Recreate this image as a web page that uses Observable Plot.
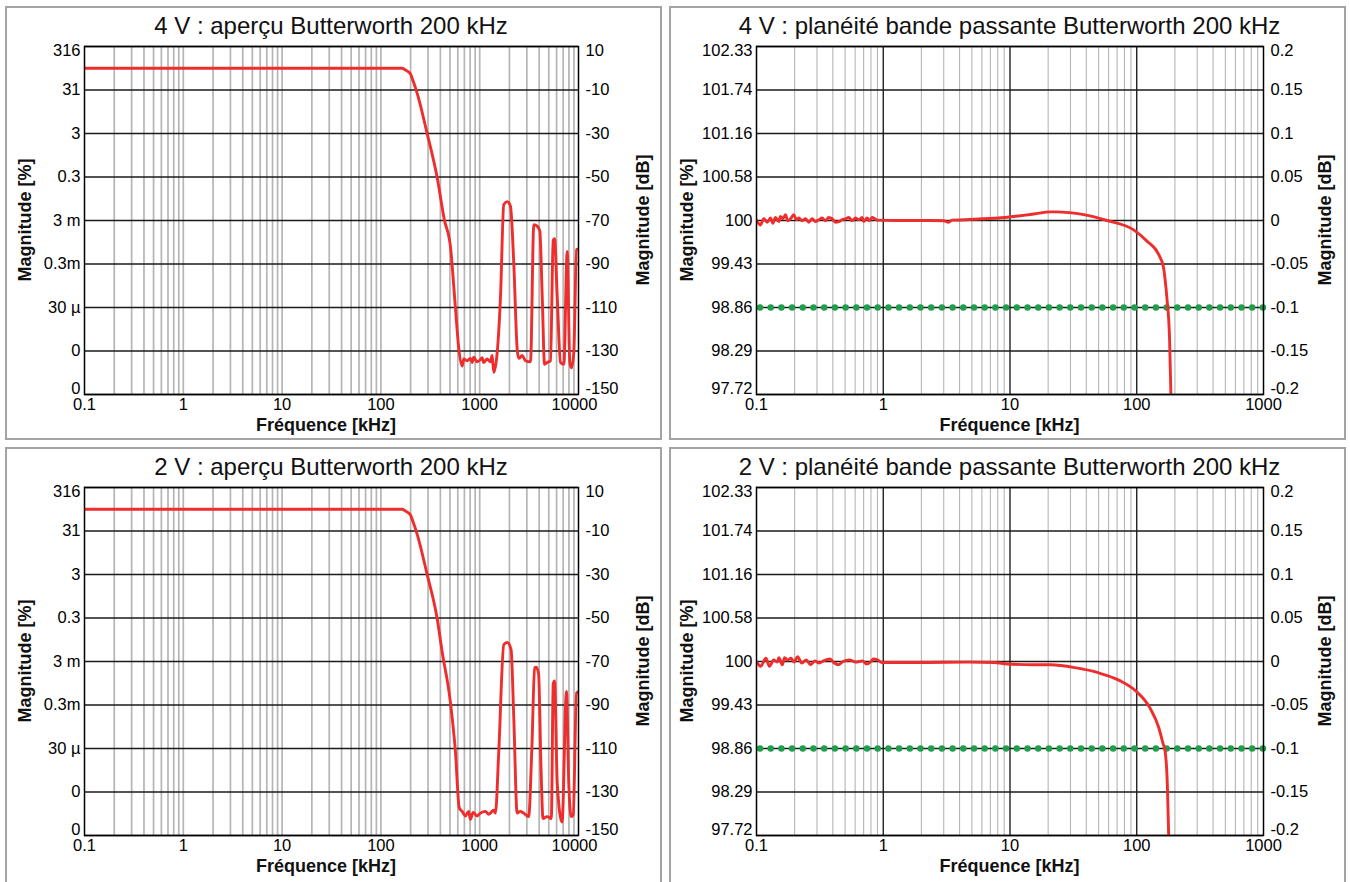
<!DOCTYPE html>
<html>
<head>
<meta charset="utf-8">
<script src="https://cdn.jsdelivr.net/npm/d3@7"></script>
<script src="https://cdn.jsdelivr.net/npm/@observablehq/plot@0.6"></script>
<style>
  html, body { margin: 0; padding: 0; background: #fff; }
  body { font-family: "Liberation Sans", Arial, sans-serif; color: #000; }
  #page { position: relative; width: 1350px; height: 882px; overflow: hidden; background: #fff; }
  .panel { position: absolute; box-sizing: border-box; border: 2px solid #a3a3a3; }
  .title { position: absolute; font-size: 24px; line-height: 1; white-space: nowrap; transform: translate(-50%, -50%); color: #111; }
  .lab { position: absolute; font-size: 18px; font-weight: bold; line-height: 1; white-space: nowrap; color: #111; }
  .plotsvg { position: absolute; background: none !important; overflow: visible; }
  .plotsvg text { font-family: "Liberation Sans", Arial, sans-serif !important; font-size: 16.5px !important; fill: #000; }
</style>
</head>
<body>
<div id="page"></div>
<script>
// ---------------- DATA ----------------
// Overview (dB vs kHz), 4 V
const ov4_f  = [0.1,140,163.9,177,198.8,206.7,235.4,292.8,370.3,439,505.8,567.5,614.3,664.5,689,746.3,804.9,837.1,870.5,942.6,1016.7,1057.8,1099,1189,1284,1337,1387,1502,1623,1753,1897,2048,2211,2393,2488,2694,2907,3268,3528,3819,4060,4296,4533,4820,5205,5549,5720,6094,6577,7108,7685,8166,8497,8968,9550,10000];
const ov4_db = [0,0,0,-0.8,-2.5,-4.5,-12.2,-29.7,-50,-69.7,-82,-110,-128.9,-136.9,-133.7,-134.5,-133.4,-135.3,-132.9,-135,-134,-133.1,-135.3,-133.7,-135,-132.1,-139.8,-131,-105.3,-62.6,-61.3,-63.4,-89.3,-128.9,-133.4,-132.1,-134.5,-135,-71.9,-72.6,-74.8,-105.3,-136.1,-135.3,-134.5,-79.1,-78.4,-105.3,-135.3,-136.1,-84.2,-135.3,-137.7,-130.5,-83.4,-83];

// Overview, 2 V
const ov2_f  = [0.1,140,163.9,177,198.8,206.7,235.4,292.8,370.3,416.4,505.8,567.5,621.3,664.5,716.4,773.5,804.9,856.9,942.6,1016.7,1144,1236,1387,1443,1560,1753,1897,2079,2211,2393,2576,2782,3128,3382,3594,3740,3946,4175,4372,4820,5309,5549,5720,6094,6812,7557,7972,8434,8838,9546,10000];
const ov2_db = [0,0,0,-0.8,-2.5,-4.5,-12.2,-29.7,-50,-65.4,-88.9,-111.2,-137.3,-138.9,-141,-138.9,-142.6,-139.4,-141,-139.7,-138.9,-140.2,-138.4,-139.7,-111.2,-62.2,-61.2,-64.6,-95.3,-139.7,-138.9,-139.7,-141.3,-108.1,-72.9,-72.6,-75.8,-119.1,-142.2,-141.3,-142.2,-80.3,-78.9,-126,-143.8,-83.8,-126,-141.3,-140.6,-84.5,-84];

// Passband flatness (dB vs kHz), 4 V
const fl4_f  = [0.1,0.1075,0.1142,0.1214,0.1289,0.1345,0.1411,0.15,0.1546,0.1613,0.1693,0.1766,0.1854,0.197,0.2067,0.2157,0.2291,0.2434,0.2586,0.2748,0.2919,0.3101,0.3295,0.3499,0.3718,0.395,0.4197,0.4459,0.4736,0.5032,0.5346,0.5679,0.6034,0.641,0.681,0.702,0.7458,0.778,0.8166,0.857,0.8944,1.321,2.425,2.994,3.28,3.49,4.447,6.017,8.139,9.19,15.41,20.82,22.82,38.15,58.29,93.93,120.4,148.5,162.7,167.4,173.1,181.5,186.0];
const fl4_db = [0.0008,-0.0051,0.002,-0.002,0.0028,-0.0032,0.0035,-0.0012,0.0047,0.002,0.0067,-0.0004,0.002,0.0067,0.0008,0.0028,-0.0004,0.002,-0.002,0.002,-0.0012,0.0008,0.0028,-0.0004,0.0035,0.002,-0.002,-0.0012,0.0008,0.002,0.0035,-0.0004,0.0028,0.0008,0.0035,-0.0012,0.0028,-0.0004,0.0035,0.002,0.0004,0,0,-0.0003,-0.002,0.0004,0.0008,0.002,0.0028,0.0035,0.0075,0.0099,0.0099,0.0067,0,-0.0105,-0.0237,-0.0387,-0.054,-0.068,-0.0897,-0.136,-0.2];

// Passband flatness, 2 V
const fl2_f  = [0.1,0.108,0.1187,0.1264,0.1367,0.1456,0.1502,0.16,0.1664,0.1758,0.1872,0.1978,0.2106,0.2278,0.2465,0.2666,0.2884,0.312,0.3376,0.3798,0.4109,0.4445,0.4807,0.5409,0.6087,0.6848,0.7406,0.8013,0.8333,0.9016,0.976,2.141,4.697,7.517,9.563,15.22,20.91,33.54,49.64,73.45,96.8,127.3,149.0,161.1,167.7,174.4,178.6];
const fl2_db = [0,-0.0055,0.0037,-0.0055,0.0018,-0.0007,0.0044,-0.0037,0.0044,0.0018,0.0037,-0.0007,0.0055,-0.0018,0.0018,-0.0037,0.0007,-0.0018,0.0007,0.0029,-0.0018,-0.0037,0,0.0018,-0.0007,0.0007,-0.0029,0,0.0029,0.0018,-0.0011,-0.0011,-0.0007,-0.0011,-0.0029,-0.0037,-0.0037,-0.0074,-0.0129,-0.022,-0.0331,-0.0536,-0.0758,-0.094,-0.1038,-0.1423,-0.2];

// Tolerance limit (green dotted), dB
const limit_db = [-0.1];

// Tick values and labels
const ovYTicks   = [10,-10,-30,-50,-70,-90,-110,-130,-150];
const ovYPct     = ["316","31","3","0.3","3 m","0.3m","30 µ","0","0"];
const ovYDb      = ["10","-10","-30","-50","-70","-90","-110","-130","-150"];
const flYTicks   = [0.2,0.15,0.1,0.05,0,-0.05,-0.1,-0.15,-0.2];
const flYPct     = ["102.33","101.74","101.16","100.58","100","99.43","98.86","98.29","97.72"];
const flYDb      = ["0.2","0.15","0.1","0.05","0","-0.05","-0.1","-0.15","-0.2"];
const ovXTicks   = [0.1,1,10,100,1000,10000];
const ovXLabels  = ["0.1","1","10","100","1000","10000"];
const flXTicks   = [0.1,1,10,100,1000];
const flXLabels  = ["0.1","1","10","100","1000"];

const titles = [
  "4 V : aperçu Butterworth 200 kHz",
  "4 V : planéité bande passante Butterworth 200 kHz",
  "2 V : aperçu Butterworth 200 kHz",
  "2 V : planéité bande passante Butterworth 200 kHz"
];
const xTitle = "Fréquence [kHz]";
const yTitleLeft = "Magnitude [%]";
const yTitleRight = "Magnitude [dB]";

// ---------------- HELPERS ----------------
const toRows = (fs, dbs) => fs.map((f, i) => ({f, db: dbs[i]}));
function logGrid(lo, hi, includeDecades) {
  const out = [];
  for (let e = Math.round(Math.log10(lo)); e < Math.round(Math.log10(hi)); e++) {
    for (let k = includeDecades ? 1 : 2; k <= 9; k++) out.push(+(k * Math.pow(10, e)).toPrecision(3));
  }
  return out.filter(v => v > lo && v < hi);
}

const page = document.getElementById("page");
function addDiv(cls, text, css) {
  const d = document.createElement("div");
  d.className = cls;
  d.textContent = text;
  Object.assign(d.style, css);
  page.appendChild(d);
  return d;
}

const TICKFS = 16.5;

function buildPanel(cfg) {
  const look = (ticks, labels) => d => labels[ticks.indexOf(d)];
  const yT = cfg.yTicks;
  const first = [yT[0]], last = [yT[yT.length - 1]], mid = yT.slice(1, -1);
  const yl = look(yT, cfg.yLeft), yr = look(yT, cfg.yRight);
  const xl = look(cfg.xTicks, cfg.xLabels);
  const ax = {tickSize: 0, label: null, fontSize: TICKFS};
  const xT = cfg.xTicks;
  const marks = [
    Plot.ruleX(cfg.minor, {stroke: "#b5b5b5", strokeWidth: cfg.minorWidth}),
  ];
  if (cfg.major.length) marks.push(Plot.ruleX(cfg.major, {stroke: "#111", strokeWidth: 1.3}));
  marks.push(Plot.ruleY(yT, {stroke: "#1a1a1a", strokeWidth: 1.4}));
  if (cfg.limit) marks.push(Plot.ruleY(cfg.limit, {stroke: "#1f9e4b", strokeWidth: 6.5, strokeDasharray: "0 10.7", strokeLinecap: "round", strokeDashoffset: 6.7}));
  marks.push(
    Plot.line(cfg.data, {x: "f", y: "db", stroke: "#ee2d2d", strokeWidth: 2.9, clip: true, curve: "monotone-x"}),
    Plot.frame({stroke: "#000", strokeWidth: 1.5}),
    Plot.axisY(mid,   {...ax, anchor: "left",  tickPadding: 4, tickFormat: yl}),
    Plot.axisY(first, {...ax, anchor: "left",  tickPadding: 4, tickFormat: yl, dy: 4}),
    Plot.axisY(last,  {...ax, anchor: "left",  tickPadding: 4, tickFormat: yl, dy: -6}),
    Plot.axisY(mid,   {...ax, anchor: "right", tickPadding: 7, tickFormat: yr}),
    Plot.axisY(first, {...ax, anchor: "right", tickPadding: 7, tickFormat: yr, dy: 4}),
    Plot.axisY(last,  {...ax, anchor: "right", tickPadding: 7, tickFormat: yr, dy: -6}),
    Plot.axisX(xT.slice(0, -1), {...ax, anchor: "bottom", tickPadding: 4, tickFormat: xl}),
    Plot.axisX(xT.slice(-1),    {...ax, anchor: "bottom", tickPadding: 4, tickFormat: xl, dx: cfg.lastDx})
  );
  const svg = Plot.plot({
    width: cfg.width, height: cfg.height,
    marginLeft: cfg.mL, marginRight: cfg.mR, marginTop: cfg.mT, marginBottom: cfg.mB,
    x: {type: "log", domain: cfg.xDomain},
    y: {domain: cfg.yDomain},
    style: "background: none; font-family: 'Liberation Sans', Arial, sans-serif; font-size: 16.5px; color: #000; overflow: visible;",
    marks
  });
  svg.classList.add("plotsvg");
  svg.style.position = "absolute";
  svg.style.left = cfg.left + "px";
  svg.style.top = cfg.top + "px";
  return svg;
}

// ---------------- LAYOUT ----------------
const panelDefs = [
  {kind: "ov", col: 0, row: 0, data: toRows(ov4_f, ov4_db), title: titles[0]},
  {kind: "fl", col: 1, row: 0, data: toRows(fl4_f, fl4_db), title: titles[1]},
  {kind: "ov", col: 0, row: 1, data: toRows(ov2_f, ov2_db), title: titles[2]},
  {kind: "fl", col: 1, row: 1, data: toRows(fl2_f, fl2_db), title: titles[3]}
];

const ROWOFF = 441;
for (const p of panelDefs) {
  const dy = p.row * ROWOFF;
  const isOv = p.kind === "ov";
  const left = isOv ? 5 : 669;
  const width = isOv ? 657 : 677;
  const top = 6 + dy;
  const H = 434;
  addDiv("panel", "", {left: left + "px", top: top + "px", width: width + "px", height: (p.row ? 437 : H) + "px"});
  const fx0 = isOv ? 84 : 756, fx1 = isOv ? 578 : 1263;
  const fy0 = 46 + dy, fy1 = 394 + dy;
  const cfg = {
    left, top, width, height: H,
    mL: fx0 - left, mR: left + width - fx1, mT: fy0 - top, mB: top + H - fy1,
    xDomain: isOv ? [0.1, 10000] : [0.1, 1000],
    xTicks: isOv ? ovXTicks : flXTicks,
    xLabels: isOv ? ovXLabels : flXLabels,
    lastDx: isOv ? -4 : 0,
    yDomain: isOv ? [-150, 10] : [-0.2, 0.2],
    yTicks: isOv ? ovYTicks : flYTicks,
    yLeft: isOv ? ovYPct : flYPct,
    yRight: isOv ? ovYDb : flYDb,
    minor: isOv ? logGrid(0.1, 10000, true) : logGrid(0.1, 1000, false),
    minorWidth: isOv ? 1.7 : 1.1,
    major: isOv ? [] : [1, 10, 100],
    limit: isOv ? null : limit_db,
    data: p.data
  };
  page.appendChild(buildPanel(cfg));
  const cx = (fx0 + fx1) / 2;
  addDiv("title", p.title, {left: cx + "px", top: (25.5 + dy) + "px"});
  addDiv("lab", xTitle, {left: (isOv ? 326 : 1009.5) + "px", top: (425 + dy) + "px", transform: "translate(-50%,-50%)"});
  addDiv("lab", yTitleLeft, {left: (isOv ? 25 : 686.7) + "px", top: (220 + dy) + "px", transform: "translate(-50%,-50%) rotate(-90deg)"});
  addDiv("lab", yTitleRight, {left: (isOv ? 643.4 : 1325) + "px", top: (220 + dy) + "px", transform: "translate(-50%,-50%) rotate(-90deg)"});
}
</script>
</body>
</html>
